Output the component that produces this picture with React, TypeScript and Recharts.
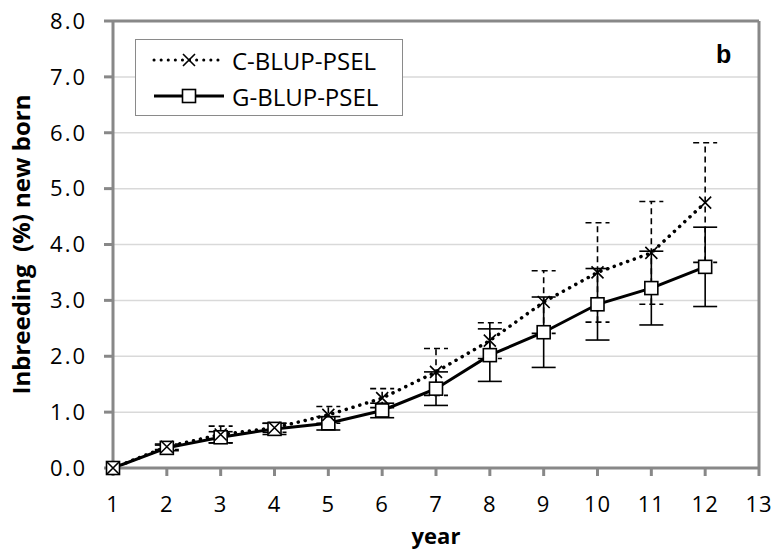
import {
  LineChart,
  Line,
  XAxis,
  YAxis,
  CartesianGrid,
  ErrorBar,
  ReferenceLine,
} from "recharts";

const years = [1, 2, 3, 4, 5, 6, 7, 8, 9, 10, 11, 12];
const cValues = [0, 0.38, 0.6, 0.72, 0.95, 1.25, 1.72, 2.28, 2.97, 3.5, 3.85, 4.75];
const cErr = [0, 0.05, 0.15, 0.08, 0.15, 0.17, 0.42, 0.32, 0.56, 0.89, 0.92, 1.07];
const gValues = [0, 0.36, 0.55, 0.7, 0.8, 1.03, 1.42, 2.02, 2.43, 2.93, 3.22, 3.6];
const gErr = [0, 0.05, 0.1, 0.1, 0.12, 0.13, 0.3, 0.47, 0.63, 0.64, 0.66, 0.71];
const xTicks = [1, 2, 3, 4, 5, 6, 7, 8, 9, 10, 11, 12, 13];
const yTicks = [0, 1, 2, 3, 4, 5, 6, 7, 8];

const data = years.map((y, i) => ({
  year: y,
  c: cValues[i],
  cErr: cErr[i],
  g: gValues[i],
  gErr: gErr[i],
}));

const FONT = "'Open Sans', 'Liberation Sans', sans-serif";
const AXIS = "#888888";

const Cross = (props: any) => {
  const { cx, cy } = props;
  if (cx == null || cy == null) return null;
  const s = 6;
  return (
    <path
      d={`M${cx - s},${cy - s}L${cx + s},${cy + s}M${cx - s},${cy + s}L${cx + s},${cy - s}`}
      stroke="#000"
      strokeWidth={1.6}
      fill="none"
    />
  );
};

const Square = (props: any) => {
  const { cx, cy } = props;
  if (cx == null || cy == null) return null;
  const s = 6.5;
  return <rect x={cx - s} y={cy - s} width={s * 2} height={s * 2} fill="#fff" stroke="#000" strokeWidth={1.6} />;
};

// legend drawn as an overlay box like the Excel one
const LegendBox = () => (
  <div
    style={{
      position: "absolute",
      left: 135,
      top: 39,
      width: 266,
      height: 75,
      border: "1.5px solid #8a8a8a",
      background: "#fff",
      fontFamily: FONT,
      fontSize: 24,
      color: "#000",
    }}
  >
    <div style={{ display: "flex", alignItems: "center", height: 36, marginTop: 2 }}>
      <svg width={80} height={20} style={{ marginLeft: 16 }}>
        <line x1={2} y1={10} x2={72} y2={10} stroke="#000" strokeWidth={3} strokeDasharray="0.1 7" strokeLinecap="round" />
        <Cross cx={37} cy={10} />
      </svg>
      <span>C-BLUP-PSEL</span>
    </div>
    <div style={{ display: "flex", alignItems: "center", height: 36 }}>
      <svg width={80} height={20} style={{ marginLeft: 16 }}>
        <line x1={2} y1={10} x2={72} y2={10} stroke="#000" strokeWidth={3} />
        <Square cx={37} cy={10} />
      </svg>
      <span>G-BLUP-PSEL</span>
    </div>
  </div>
);

export default function App() {
  return (
    <div style={{ position: "absolute", left: 0, top: 0, width: 775, height: 554, background: "#fff" }}>
      <LineChart
        width={775}
        height={554}
        data={data}
        margin={{ top: 21, right: 16, left: 0, bottom: 0 }}
        style={{ fontFamily: FONT }}
      >
        <CartesianGrid horizontal vertical={false} stroke="#d9d9d9" strokeWidth={1.5} />
        <XAxis
          dataKey="year"
          type="number"
          domain={[1, 13]}
          ticks={xTicks}
          height={86}
          stroke={AXIS}
          strokeWidth={3}
          tickSize={8}
          tickMargin={20}
          tick={{ fill: "#000", fontSize: 22, letterSpacing: 1 }}
          label={{ value: "year", position: "insideBottom", offset: 10, fill: "#000", fontSize: 22, fontWeight: "bold" }}
        />
        <YAxis
          type="number"
          domain={[0, 8]}
          ticks={yTicks}
          width={113}
          stroke={AXIS}
          strokeWidth={3}
          tickSize={9}
          tickMargin={17}
          tickFormatter={(v: number) => v.toFixed(1)}
          tick={{ fill: "#000", fontSize: 22, letterSpacing: 2 }}
          label={{
            value: "Inbreeding\u00a0\u00a0(%) new born",
            angle: -90,
            position: "insideLeft",
            offset: 21,
            style: { textAnchor: "middle", fill: "#000", fontSize: 24, fontWeight: "bold" },
          }}
        />
        <ReferenceLine y={8} stroke={AXIS} strokeWidth={3} />
        <ReferenceLine x={13} stroke={AXIS} strokeWidth={3} />
        <Line
          dataKey="g"
          name="G-BLUP-PSEL"
          stroke="#000"
          strokeWidth={3}
          dot={<Square />}
          isAnimationActive={false}
        >
          <ErrorBar dataKey="gErr" direction="y" width={12} stroke="#000" strokeWidth={1.6} />
        </Line>
        <Line
          dataKey="c"
          name="C-BLUP-PSEL"
          stroke="#000"
          strokeWidth={3.5}
          strokeDasharray="0.1 7"
          strokeLinecap="round"
          dot={<Cross />}
          isAnimationActive={false}
        >
          <ErrorBar dataKey="cErr" direction="y" width={12} stroke="#000" strokeWidth={1.6} strokeDasharray="6 4" />
        </Line>
      </LineChart>
      <LegendBox />
      <div
        style={{
          position: "absolute",
          left: 716,
          top: 40,
          fontFamily: "'Liberation Sans', sans-serif",
          fontWeight: "bold",
          fontSize: 25,
          lineHeight: "28px",
          color: "#000",
        }}
      >
        b
      </div>
    </div>
  );
}
